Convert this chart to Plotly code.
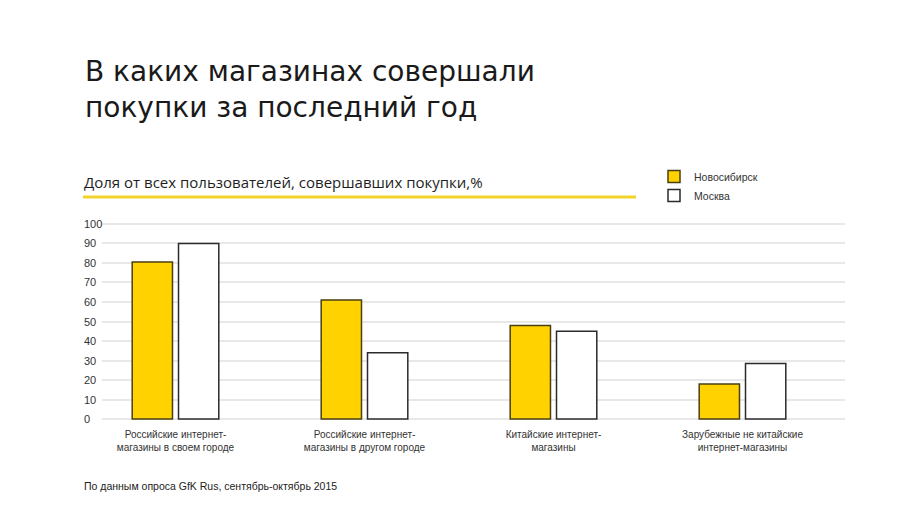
import plotly.graph_objects as go

categories = ["Российские интернет-<br>магазины в своем городе",
              "Российские интернет-<br>магазины в другом городе",
              "Китайские интернет-<br>магазины",
              "Зарубежные не китайские<br>интернет-магазины"]
novosibirsk = [80.5, 61, 48, 18]
moscow = [90, 34, 45, 28.5]
y_ticks = [0, 10, 20, 30, 40, 50, 60, 70, 80, 90, 100]
x_pos = [0, 1, 2, 3]

NARROW = "Liberation Sans Narrow, Arial Narrow, Liberation Sans, sans-serif"
MAIN = "DejaVu Sans, sans-serif"

fig = go.Figure()
fig.add_trace(go.Bar(x=x_pos, y=novosibirsk, name="Новосибирск",
                     marker=dict(color="#FFD200", line=dict(color="#4a3f10", width=1.5))))
fig.add_trace(go.Bar(x=x_pos, y=moscow, name="Москва",
                     marker=dict(color="#FFFFFF", line=dict(color="#2b2b2b", width=1.5))))

L, R = 102, 845
W = R - L
TOP, BOTTOM = 222, 421


def py(ypix):
    return (BOTTOM - ypix) / (BOTTOM - TOP)


def px(xpix):
    return (xpix - L) / W


annotations = []
for v in y_ticks:
    annotations.append(dict(x=px(82), xref="paper", y=v, yref="y", text=str(v),
                            showarrow=False, xanchor="left", yanchor="middle",
                            font=dict(family="Liberation Sans, sans-serif", size=11, color="#333")))

annotations += [
    dict(x=px(83), y=py(53), xref="paper", yref="paper",
         text="В каких магазинах совершали<br>покупки за последний год",
         showarrow=False, xanchor="left", yanchor="top", align="left",
         font=dict(family=MAIN, size=28, color="#1a1a1a")),
    dict(x=px(82), y=py(182), xref="paper", yref="paper",
         text="Доля от всех пользователей, совершавших покупки,%",
         showarrow=False, xanchor="left", yanchor="middle",
         font=dict(family="Open Sans, sans-serif", size=15, color="#1e1e1e")),
    dict(x=px(82), y=py(486), xref="paper", yref="paper",
         text="По данным опроса GfK Rus, сентябрь-октябрь 2015",
         showarrow=False, xanchor="left", yanchor="middle",
         font=dict(family=NARROW, size=10.5, color="#222")),
]

shapes = [dict(type="line", xref="paper", yref="paper", x0=px(83), x1=px(636),
               y0=py(197), y1=py(197), line=dict(color="#F2D32A", width=3))]

fig.update_layout(
    width=900, height=505,
    margin=dict(l=L, r=900 - R, t=TOP, b=505 - BOTTOM, pad=0),
    paper_bgcolor="white", plot_bgcolor="white",
    barmode="group", bargap=0.51, bargroupgap=0.13,
    showlegend=True,
    legend=dict(x=px(654), y=py(162), xanchor="left", yanchor="top",
                font=dict(family=NARROW, size=10.5, color="#333"),
                itemwidth=30, tracegroupgap=4, bgcolor="rgba(0,0,0,0)"),
    xaxis=dict(range=[(L - 175.5) / 189, (R - 175.5) / 189], tickmode="array",
               tickvals=x_pos, ticktext=categories, showgrid=False, zeroline=False,
               showline=False, ticks="", ticklabelstandoff=6,
               tickfont=dict(family=NARROW, size=10, color="#333"), fixedrange=True),
    yaxis=dict(range=[-1, 101], tickvals=y_ticks, showticklabels=False,
               showgrid=True, gridcolor="#e8e8e8", gridwidth=2, zeroline=False,
               showline=False, ticks=""),
    annotations=annotations, shapes=shapes,
)

fig.write_html("out.html")
